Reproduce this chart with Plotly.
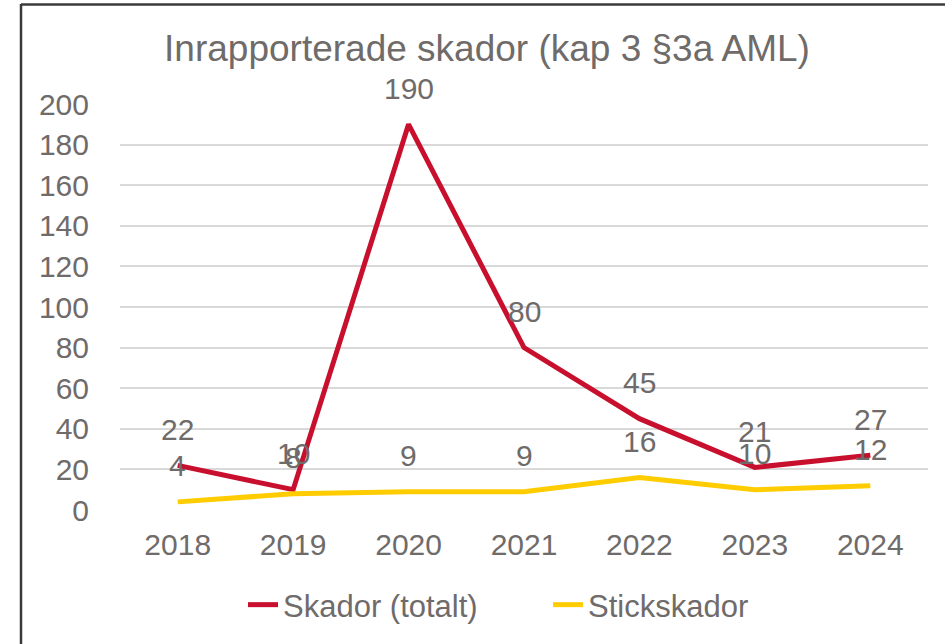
import plotly.graph_objects as go

years = ["2018", "2019", "2020", "2021", "2022", "2023", "2024"]
skador_totalt = [22, 10, 190, 80, 45, 21, 27]
stickskador = [4, 8, 9, 9, 16, 10, 12]
y_ticks = [0, 20, 40, 60, 80, 100, 120, 140, 160, 180, 200]

RED = "#C8102E"
YELLOW = "#FFCC00"
TEXT = "#6f6b6a"
GRID = "#d9d9d9"
FONT = "Liberation Sans, Arial, sans-serif"

W, H = 945, 644
L, R, T, B = 120, 17, 104, 134

fig = go.Figure()
fig.add_trace(go.Scatter(x=years, y=skador_totalt, mode="lines", name="Skador (totalt)",
                         line=dict(color=RED, width=5)))
fig.add_trace(go.Scatter(x=years, y=stickskador, mode="lines", name="Stickskador",
                         line=dict(color=YELLOW, width=5)))

# value labels above each point (category index used as x position)
annotations = []
for series in (skador_totalt, stickskador):
    for i, v in enumerate(series):
        annotations.append(dict(x=i, y=v, xref="x", yref="y", text=str(v), showarrow=False,
                                yshift=36, xanchor="center", yanchor="middle",
                                font=dict(size=30, color=TEXT, family=FONT)))

# outer frame lines (left and top edges), in paper coordinates
pw, ph = W - L - R, H - T - B
def px_x(p):
    return (p - L) / pw
def px_y(p):
    return (H - B - p) / ph

shapes = [
    dict(type="line", xref="paper", yref="paper", x0=px_x(21), x1=px_x(945),
         y0=px_y(4.5), y1=px_y(4.5), line=dict(color="#3a3a3a", width=2.5)),
    dict(type="line", xref="paper", yref="paper", x0=px_x(21), x1=px_x(21),
         y0=px_y(4), y1=px_y(644), line=dict(color="#3a3a3a", width=2.5)),
]

fig.update_layout(
    width=W, height=H,
    margin=dict(l=L, r=R, t=T, b=B),
    paper_bgcolor="white", plot_bgcolor="white",
    font=dict(family=FONT, color=TEXT, size=30),
    title=dict(text="Inrapporterade skador (kap 3 §3a AML)", x=487 / W, xanchor="center",
               y=1 - 48 / H, yanchor="middle", xref="container", yref="container",
               font=dict(size=37, color=TEXT, family=FONT)),
    xaxis=dict(type="category", range=[-0.5, 6.5], showgrid=False, zeroline=False,
               showline=False, ticks="", ticklabelstandoff=14,
               tickfont=dict(size=30, color=TEXT)),
    yaxis=dict(range=[0, 200], tickvals=y_ticks, showgrid=True, gridcolor=GRID, gridwidth=1.5,
               zeroline=False, showline=False, ticks="", ticklabelstandoff=30,
               tickfont=dict(size=30, color=TEXT)),
    legend=dict(orientation="h", x=px_x(243), xanchor="left", y=px_y(605), yanchor="middle",
                entrywidth=260, entrywidthmode="pixels",
                font=dict(size=31, color=TEXT, family=FONT), bgcolor="rgba(0,0,0,0)"),
    annotations=annotations,
    shapes=shapes,
    showlegend=True,
)

fig.write_html("out.html")
